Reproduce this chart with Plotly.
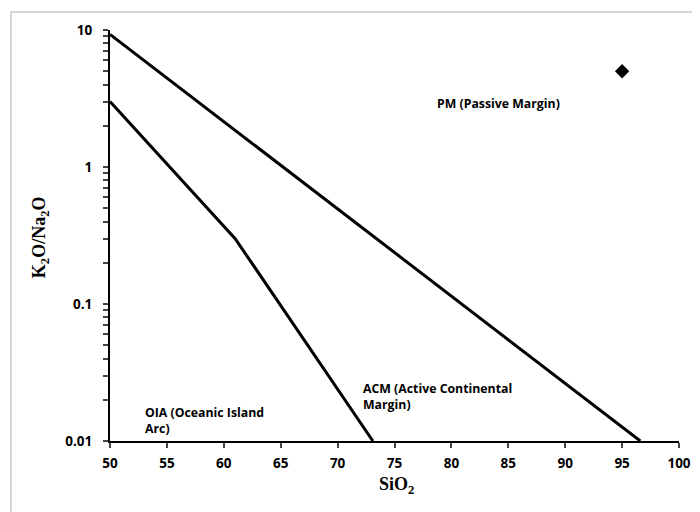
import plotly.graph_objects as go

# Boundary lines (SiO2, K2O/Na2O)
pm_acm_x = [50, 96.6]
pm_acm_y = [9.3, 0.01]
acm_oia_x = [50, 61, 73.1]
acm_oia_y = [3.0, 0.3, 0.01]

# Sample point
sample_x = [95]
sample_y = [5]

x_ticks = [50, 55, 60, 65, 70, 75, 80, 85, 90, 95, 100]
y_major_ticks = [0.01, 0.1, 1, 10]
y_major_text = ["0.01", "0.1", "1", "10"]
y_minor_mult = [2, 3, 4, 5, 6, 7, 8, 9]

y_tickvals = []
y_ticktext = []
for v, t in zip(y_major_ticks, y_major_text):
    y_tickvals.append(v)
    y_ticktext.append(t)
    if v < 10:
        for m in y_minor_mult:
            y_tickvals.append(v * m)
            y_ticktext.append("")

fig = go.Figure()
fig.add_trace(go.Scatter(x=pm_acm_x, y=pm_acm_y, mode="lines",
                         line=dict(color="black", width=3), showlegend=False, hoverinfo="skip"))
fig.add_trace(go.Scatter(x=acm_oia_x, y=acm_oia_y, mode="lines",
                         line=dict(color="black", width=3), showlegend=False, hoverinfo="skip"))
fig.add_trace(go.Scatter(x=sample_x, y=sample_y, mode="markers",
                         marker=dict(symbol="diamond", size=11, color="black"), showlegend=False))

tick_font = dict(family="Open Sans", size=13.5, color="black", weight="bold")
ann_font = dict(family="Open Sans", size=12.3, color="black", weight="bold")
title_font = dict(family="Liberation Serif", size=18, color="black", weight="bold")

fig.update_xaxes(range=[50, 100], tickvals=x_ticks, ticks="outside", ticklen=5, tickwidth=2,
                 showline=True, linecolor="black", linewidth=2, showgrid=False, zeroline=False,
                 tickfont=tick_font, ticklabelstandoff=4)
fig.update_yaxes(type="log", range=[-2, 1], tickvals=y_tickvals, ticktext=y_ticktext,
                 ticks="outside", ticklen=5, tickwidth=2,
                 showline=True, linecolor="black", linewidth=2, showgrid=False, zeroline=False,
                 tickfont=tick_font, ticklabelstandoff=8)

fig.add_annotation(x=0.503, y=-0.109, xref="paper", yref="paper", text="SiO<sub>2</sub>",
                   showarrow=False, font=title_font, xanchor="center", yanchor="middle")
fig.add_annotation(x=-0.123, y=0.496, xref="paper", yref="paper", text="K<sub>2</sub>O/Na<sub>2</sub>O",
                   showarrow=False, font=title_font, xanchor="center", yanchor="middle", textangle=-90)

fig.add_annotation(x=0.682, y=0.822, xref="paper", yref="paper", text="PM (Passive Margin)",
                   showarrow=False, font=ann_font, xanchor="center", yanchor="middle")
fig.add_annotation(x=0.058, y=0.051, xref="paper", yref="paper", text="OIA (Oceanic Island<br>Arc)",
                   showarrow=False, font=ann_font, xanchor="left", yanchor="middle", align="left")
fig.add_annotation(x=0.441, y=0.109, xref="paper", yref="paper", text="ACM (Active Continental<br>Margin)",
                   showarrow=False, font=ann_font, xanchor="left", yanchor="middle", align="left")

fig.add_shape(type="rect", xref="paper", yref="paper", x0=-0.174, x1=1.2, y0=-0.3, y1=1.044,
              line=dict(color="#c8c8c8", width=1.5), layer="below")

fig.update_layout(width=700, height=512, margin=dict(l=102, r=29, t=22, b=79),
                  plot_bgcolor="white", paper_bgcolor="white")

fig.write_html("out.html")
